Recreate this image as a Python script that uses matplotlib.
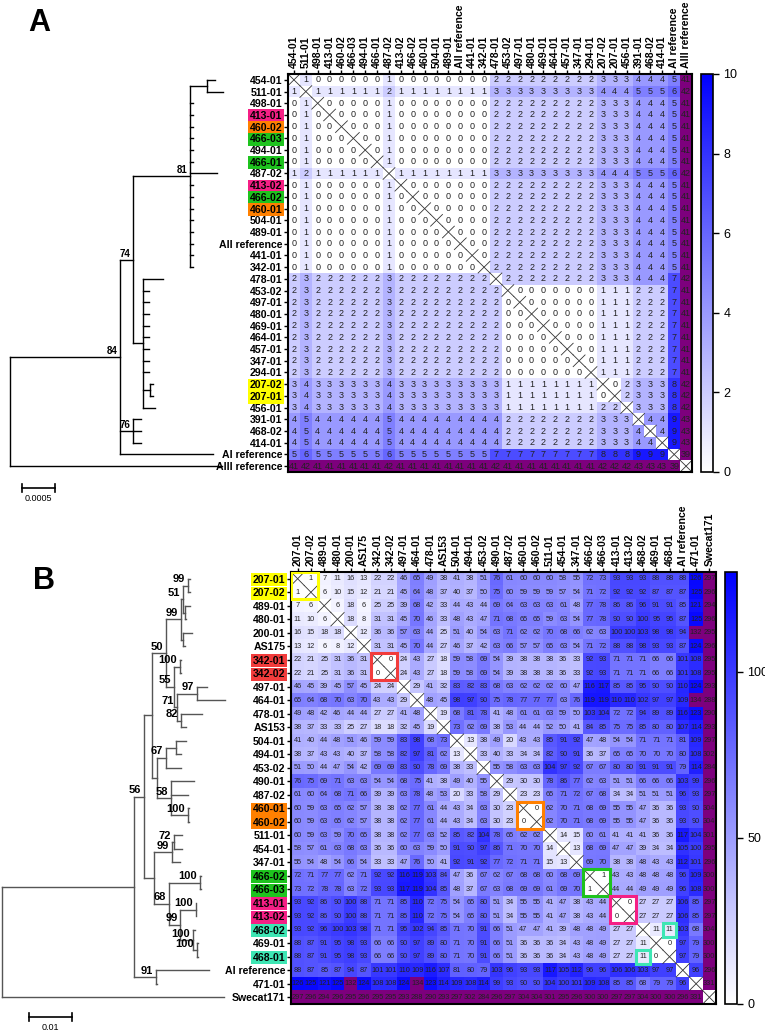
import matplotlib
matplotlib.use('Agg')
import matplotlib.pyplot as plt
import numpy as np
from matplotlib.colors import LinearSegmentedColormap

plt.rcParams['font.family'] = ['Liberation Sans', 'DejaVu Sans']

# ---------------- panel A data ----------------
labels_a = ['454-01', '511-01', '498-01', '413-01', '460-02', '466-03', '494-01', '466-01',
            '487-02', '413-02', '466-02', '460-01', '504-01', '489-01', 'AII reference', '441-01',
            '342-01', '478-01', '453-02', '497-01', '480-01', '469-01', '464-01', '457-01',
            '347-01', '294-01', '207-02', '207-01', '456-01', '391-01', '468-02', '414-01',
            'AI reference', 'AIII reference']

diffs_a = [
    "X 1 0 0 0 0 0 0 1 0 0 0 0 0 0 0 0 2 2 2 2 2 2 2 2 2 3 3 3 4 4 4 5 41",
    "1 X 1 1 1 1 1 1 2 1 1 1 1 1 1 1 1 3 3 3 3 3 3 3 3 3 4 4 4 5 5 5 6 42",
    "0 1 X 0 0 0 0 0 1 0 0 0 0 0 0 0 0 2 2 2 2 2 2 2 2 2 3 3 3 4 4 4 5 41",
    "0 1 0 X 0 0 0 0 1 0 0 0 0 0 0 0 0 2 2 2 2 2 2 2 2 2 3 3 3 4 4 4 5 41",
    "0 1 0 0 X 0 0 0 1 0 0 0 0 0 0 0 0 2 2 2 2 2 2 2 2 2 3 3 3 4 4 4 5 41",
    "0 1 0 0 0 X 0 0 1 0 0 0 0 0 0 0 0 2 2 2 2 2 2 2 2 2 3 3 3 4 4 4 5 41",
    "0 1 0 0 0 0 X 0 1 0 0 0 0 0 0 0 0 2 2 2 2 2 2 2 2 2 3 3 3 4 4 4 5 41",
    "0 1 0 0 0 0 0 X 1 0 0 0 0 0 0 0 0 2 2 2 2 2 2 2 2 2 3 3 3 4 4 4 5 41",
    "1 2 1 1 1 1 1 1 X 1 1 1 1 1 1 1 1 3 3 3 3 3 3 3 3 3 4 4 4 5 5 5 6 42",
    "0 1 0 0 0 0 0 0 1 X 0 0 0 0 0 0 0 2 2 2 2 2 2 2 2 2 3 3 3 4 4 4 5 41",
    "0 1 0 0 0 0 0 0 1 0 X 0 0 0 0 0 0 2 2 2 2 2 2 2 2 2 3 3 3 4 4 4 5 41",
    "0 1 0 0 0 0 0 0 1 0 0 X 0 0 0 0 0 2 2 2 2 2 2 2 2 2 3 3 3 4 4 4 5 41",
    "0 1 0 0 0 0 0 0 1 0 0 0 X 0 0 0 0 2 2 2 2 2 2 2 2 2 3 3 3 4 4 4 5 41",
    "0 1 0 0 0 0 0 0 1 0 0 0 0 X 0 0 0 2 2 2 2 2 2 2 2 2 3 3 3 4 4 4 5 41",
    "0 1 0 0 0 0 0 0 1 0 0 0 0 0 X 0 0 2 2 2 2 2 2 2 2 2 3 3 3 4 4 4 5 41",
    "0 1 0 0 0 0 0 0 1 0 0 0 0 0 0 X 0 2 2 2 2 2 2 2 2 2 3 3 3 4 4 4 5 41",
    "0 1 0 0 0 0 0 0 1 0 0 0 0 0 0 0 X 2 2 2 2 2 2 2 2 2 3 3 3 4 4 4 5 41",
    "2 3 2 2 2 2 2 2 3 2 2 2 2 2 2 2 2 X 2 2 2 2 2 2 2 2 3 3 3 4 4 4 7 42",
    "2 3 2 2 2 2 2 2 3 2 2 2 2 2 2 2 2 2 X 0 0 0 0 0 0 0 1 1 1 2 2 2 7 41",
    "2 3 2 2 2 2 2 2 3 2 2 2 2 2 2 2 2 2 0 X 0 0 0 0 0 0 1 1 1 2 2 2 7 41",
    "2 3 2 2 2 2 2 2 3 2 2 2 2 2 2 2 2 2 0 0 X 0 0 0 0 0 1 1 1 2 2 2 7 41",
    "2 3 2 2 2 2 2 2 3 2 2 2 2 2 2 2 2 2 0 0 0 X 0 0 0 0 1 1 1 2 2 2 7 41",
    "2 3 2 2 2 2 2 2 3 2 2 2 2 2 2 2 2 2 0 0 0 0 X 0 0 0 1 1 1 2 2 2 7 41",
    "2 3 2 2 2 2 2 2 3 2 2 2 2 2 2 2 2 2 0 0 0 0 0 X 0 0 1 1 1 2 2 2 7 41",
    "2 3 2 2 2 2 2 2 3 2 2 2 2 2 2 2 2 2 0 0 0 0 0 0 X 0 1 1 1 2 2 2 7 41",
    "2 3 2 2 2 2 2 2 3 2 2 2 2 2 2 2 2 2 0 0 0 0 0 0 0 X 1 1 1 2 2 2 7 41",
    "3 4 3 3 3 3 3 3 4 3 3 3 3 3 3 3 3 3 1 1 1 1 1 1 1 1 X 0 2 3 3 3 8 42",
    "3 4 3 3 3 3 3 3 4 3 3 3 3 3 3 3 3 3 1 1 1 1 1 1 1 1 0 X 2 3 3 3 8 42",
    "3 4 3 3 3 3 3 3 4 3 3 3 3 3 3 3 3 3 1 1 1 1 1 1 1 1 2 2 X 3 3 3 8 42",
    "4 5 4 4 4 4 4 4 5 4 4 4 4 4 4 4 4 4 2 2 2 2 2 2 2 2 3 3 3 X 4 4 9 43",
    "4 5 4 4 4 4 4 4 5 4 4 4 4 4 4 4 4 4 2 2 2 2 2 2 2 2 3 3 3 4 X 4 9 43",
    "4 5 4 4 4 4 4 4 5 4 4 4 4 4 4 4 4 4 2 2 2 2 2 2 2 2 3 3 3 4 4 X 9 43",
    "5 6 5 5 5 5 5 5 6 5 5 5 5 5 5 5 5 7 7 7 7 7 7 7 7 7 8 8 8 9 9 9 X 39",
    "41 42 41 41 41 41 41 41 42 41 41 41 41 41 41 41 41 42 41 41 41 41 41 41 41 41 42 42 42 43 43 43 39 X",
]

tree_a = ("(AIII reference:0.00321,("
          "(((454-01:0.00012,511-01:0.00023):0.00026,498-01:0.00005,413-01:0.00005,460-02:0.00005,"
          "466-03:0.00005,494-01:0.00005,466-01:0.00005,487-02:0.00041,413-02:0.00005,466-02:0.00005,"
          "460-01:0.00005,504-01:0.00005,489-01:0.00005,AII reference:0.00005,441-01:0.00005,"
          "342-01:0.00005)81:0.00086,"
          "(478-01:0.0003,453-02:0.00008,497-01:0.00008,480-01:0.00008,469-01:0.00008,464-01:0.00008,"
          "457-01:0.00008,347-01:0.00008,294-01:0.00008,(207-02:0.00005,207-01:0.00005):0.0001,"
          "456-01:0.00018):0.00015)74:0.0002,"
          "(391-01:0.00012,468-02:0.00012,414-01:0.00012)76:0.0002,"
          "AI reference:0.00141)84:0.00167);")

# ---------------- panel B data ----------------
labels_b = ['207-01', '207-02', '489-01', '480-01', '200-01', 'AS175', '342-01', '342-02',
            '497-01', '464-01', '478-01', 'AS153', '504-01', '494-01', '453-02', '490-01',
            '487-02', '460-01', '460-02', '511-01', '454-01', '347-01', '466-02', '466-03',
            '413-01', '413-02', '468-02', '469-01', '468-01', 'AI reference', '471-01', 'Swecat171']

diffs_b = [
    "X 1 7 11 16 13 22 22 46 65 49 38 41 38 51 76 61 60 60 60 58 55 72 73 93 93 93 88 88 88 126 297",
    "1 X 6 10 15 12 21 21 45 64 48 37 40 37 50 75 60 59 59 59 57 54 71 72 92 92 92 87 87 87 125 296",
    "7 6 X 6 18 6 25 25 39 68 42 33 44 43 44 69 64 63 63 63 61 48 77 78 86 86 96 91 91 85 121 294",
    "11 10 6 X 18 8 31 31 45 70 46 33 48 43 47 71 68 65 65 59 63 54 77 78 90 90 100 95 95 87 125 296",
    "16 15 18 18 X 12 36 36 57 63 44 25 51 40 54 63 71 62 62 70 68 66 62 63 100 100 103 98 98 94 132 295",
    "13 12 6 8 12 X 31 31 45 70 44 27 46 37 42 63 66 57 57 65 63 54 71 72 88 88 98 93 93 87 124 296",
    "22 21 25 31 36 31 X 0 24 43 27 18 59 58 69 54 39 38 38 38 36 33 92 93 71 71 71 66 66 101 108 295",
    "22 21 25 31 36 31 0 X 24 43 27 18 59 58 69 54 39 38 38 38 36 33 92 93 71 71 71 66 66 101 108 295",
    "46 45 39 45 57 45 24 24 X 29 41 32 83 82 83 68 63 62 62 62 60 47 116 117 85 85 95 90 90 110 124 293",
    "65 64 68 70 63 70 43 43 29 X 48 45 98 97 90 75 78 77 77 77 63 76 119 119 110 110 102 97 97 109 134 288",
    "49 48 42 46 44 44 27 27 41 48 X 19 68 81 78 41 48 61 61 63 59 50 103 104 72 72 94 89 89 116 123 290",
    "38 37 33 33 25 27 18 18 32 45 19 X 73 62 69 38 53 44 44 52 50 41 84 85 75 75 85 80 80 107 114 293",
    "41 40 44 48 51 46 59 59 83 98 68 73 X 13 38 49 20 43 43 85 91 92 47 48 54 54 71 71 71 81 109 297",
    "38 37 43 43 40 37 58 58 82 97 81 62 13 X 33 40 33 34 34 82 90 91 36 37 65 65 70 70 70 80 108 302",
    "51 50 44 47 54 42 69 69 83 90 78 69 38 33 X 55 58 63 63 104 97 92 67 67 80 80 91 91 91 79 114 284",
    "76 75 69 71 63 63 54 54 68 75 41 38 49 40 55 X 29 30 30 78 86 77 62 63 51 51 66 66 66 103 99 296",
    "61 60 64 68 71 66 39 39 63 78 48 53 20 33 58 29 X 23 23 65 71 72 67 68 34 34 51 51 51 96 93 297",
    "60 59 63 65 62 57 38 38 62 77 61 44 43 34 63 30 23 X 0 62 70 71 68 69 55 55 47 36 36 93 90 304",
    "60 59 63 65 62 57 38 38 62 77 61 44 43 34 63 30 23 0 X 62 70 71 68 69 55 55 47 36 36 93 90 304",
    "60 59 63 59 70 65 38 38 62 77 63 52 85 82 104 78 65 62 62 X 14 15 60 61 41 41 41 36 36 117 104 301",
    "58 57 61 63 68 63 36 36 60 63 59 50 91 90 97 86 71 70 70 14 X 13 68 69 47 47 39 34 34 105 100 295",
    "55 54 48 54 66 54 33 33 47 76 50 41 92 91 92 77 72 71 71 15 13 X 69 70 38 38 48 43 43 112 101 296",
    "72 71 77 77 62 71 92 92 116 119 103 84 47 36 67 62 67 68 68 60 68 69 X 1 43 43 48 48 48 96 109 300",
    "73 72 78 78 63 72 93 93 117 119 104 85 48 37 67 63 68 69 69 61 69 70 1 X 44 44 49 49 49 96 108 300",
    "93 92 86 90 100 88 71 71 85 110 72 75 54 65 80 51 34 55 55 41 47 38 43 44 X 0 27 27 27 106 85 297",
    "93 92 86 90 100 88 71 71 85 110 72 75 54 65 80 51 34 55 55 41 47 38 43 44 0 X 27 27 27 106 85 297",
    "93 92 96 100 103 98 71 71 95 102 94 85 71 70 91 66 51 47 47 41 39 48 48 49 27 27 X 11 11 103 68 304",
    "88 87 91 95 98 93 66 66 90 97 89 80 71 70 91 66 51 36 36 36 34 43 48 49 27 27 11 X 0 97 79 300",
    "88 87 91 95 98 93 66 66 90 97 89 80 71 70 91 66 51 36 36 36 34 43 48 49 27 27 11 0 X 97 79 300",
    "88 87 85 87 94 87 101 101 110 109 116 107 81 80 79 103 96 93 93 117 105 112 96 96 106 106 103 97 97 X 96 296",
    "126 125 121 125 132 124 108 108 124 134 123 114 109 108 114 99 93 90 90 104 100 101 109 108 85 85 68 79 79 96 X 331",
    "297 296 294 296 295 296 295 295 293 288 290 293 297 302 284 296 297 304 304 301 295 296 300 300 297 297 304 300 300 296 331 X",
]

tree_b = ("(Swecat171:0.0512,(("
          "(((((207-01:0.0004,207-02:0.0004)99:0.0012,(489-01:0.0013,480-01:0.0002):0.0004)51:0.0004,"
          "(200-01:0.0021,AS175:0.0005):0.0004)99:0.0035,"
          "((342-01:0.0002,342-02:0.0002)100:0.0014,((497-01:0.0023,464-01:0.0065)97:0.0045,"
          "(478-01:0.0048,AS153:0.0013)82:0.0008)71:0.0008)55:0.0018)50:0.0033,"
          "(((504-01:0.0022,494-01:0.0012):0.0023,453-02:0.0035)67:0.0021,"
          "(490-01:0.0052,487-02:0.0038,(460-01:0.0002,460-02:0.0002)100:0.0038)58:0.0033):0.0012):0.0019,"
          "(((511-01:0.0019,454-01:0.0019)72:0.0004,347-01:0.0017)99:0.0041,"
          "((466-02:0.0002,466-03:0.0002)100:0.0072,((413-01:0.0002,413-02:0.0002)100:0.0035,"
          "(468-02:0.0005,(469-01:0.0002,468-01:0.0002)100:0.0009)100:0.0029)99:0.0027)68:0.0033):0.0025"
          ")56:0.0021,(AI reference:0.0123,471-01:0.0002)91:0.005):0.0306);")

YELLOW, RED, ORANGE, GREEN, PINK, TEAL = '#ffff00', '#f23c3c', '#ff8000', '#1ec31e', '#f51f85', '#3ee6b4'
marks_a = {'413-01': PINK, '460-02': ORANGE, '466-03': GREEN, '466-01': GREEN, '413-02': PINK,
           '466-02': GREEN, '460-01': ORANGE, '207-02': YELLOW, '207-01': YELLOW}
marks_b = {'207-01': YELLOW, '207-02': YELLOW, '342-01': RED, '342-02': RED, '460-01': ORANGE,
           '460-02': ORANGE, '466-02': GREEN, '466-03': GREEN, '413-01': PINK, '413-02': PINK,
           '468-02': TEAL, '468-01': TEAL}
# boxed cells in B: (first row, first col, rows, cols, colour)
boxes_b = [(0, 0, 2, 2, YELLOW), (6, 6, 2, 2, RED), (17, 17, 2, 2, ORANGE), (22, 22, 2, 2, GREEN),
           (24, 24, 2, 2, PINK), (26, 28, 1, 1, TEAL), (28, 26, 1, 1, TEAL)]

cmap = LinearSegmentedColormap.from_list('wb', ['#ffffff', '#0000ff'])
cmap.set_over('#7d007d')
cmap.set_bad('#ffffff')

W, H = 765, 1032
fig = plt.figure(figsize=(W / 100, H / 100), dpi=100)


def px_axes(x0, y0, x1, y1):
    return fig.add_axes([x0 / W, 1 - y1 / H, (x1 - x0) / W, (y1 - y0) / H])


def parse_newick(s):
    pos = 0

    def node():
        nonlocal pos
        kids = []
        if s[pos] == '(':
            pos += 1
            while True:
                kids.append(node())
                if s[pos] == ',':
                    pos += 1
                else:
                    break
            pos += 1
        start = pos
        while pos < len(s) and s[pos] not in ',();':
            pos += 1
        name, _, length = s[start:pos].partition(':')
        return {'name': name.strip(), 'len': float(length) if length else 0.0, 'kids': kids}

    return node()


def draw_tree(ax, tree, order, color, fs):
    ypos = {name: i for i, name in enumerate(order)}
    span = ax.get_xlim()[1] - ax.get_xlim()[0]

    def walk(nd, x):
        xe = x + nd['len']
        if not nd['kids']:
            y = ypos[nd['name']]
        else:
            ys = [walk(k, xe) for k in nd['kids']]
            ax.plot([xe, xe], [min(ys), max(ys)], color=color, lw=1)
            y = (min(ys) + max(ys)) / 2
            if nd['name']:
                ax.text(xe - span * 0.012, y - 0.1, nd['name'], ha='right', va='bottom',
                        fontsize=fs, fontweight='bold')
        ax.plot([x, xe], [y, y], color=color, lw=1)
        return y

    walk(tree, 0.0)


def heat(ax, cax, labels, rows, vmax, fs_num, fs_lab, marks, boxes, cticks):
    m = np.array([[np.nan if v == 'X' else float(v) for v in r.split()] for r in rows])
    n = len(labels)
    im = ax.imshow(np.ma.masked_invalid(m), cmap=cmap, vmin=0, vmax=vmax,
                   aspect='auto', interpolation='nearest')
    for i in range(n):
        for j in range(n):
            if np.isnan(m[i, j]):
                ax.plot([j - 0.5, j + 0.5], [i - 0.5, i + 0.5], color='#333333', lw=0.6)
                ax.plot([j - 0.5, j + 0.5], [i + 0.5, i - 0.5], color='#333333', lw=0.6)
            else:
                ax.text(j, i, '%d' % m[i, j], ha='center', va='center',
                        fontsize=fs_num, color='#222222')
    for r, c, nr, nc, col in boxes:
        ax.add_patch(plt.Rectangle((c - 0.5, r - 0.5), nc, nr, fill=False, ec=col, lw=2.2, zorder=5))
    ax.set_xlim(-0.5, n - 0.5)
    ax.set_ylim(n - 0.5, -0.5)
    ax.set_xticks(range(n))
    ax.set_yticks(range(n))
    ax.set_xticklabels(labels, rotation=90, fontsize=fs_lab, fontweight='bold')
    ax.set_yticklabels(labels, fontsize=fs_lab, fontweight='bold')
    ax.xaxis.tick_top()
    ax.tick_params(length=3, width=1, pad=1)
    for lab in ax.get_yticklabels():
        if lab.get_text() in marks:
            lab.set_bbox(dict(facecolor=marks[lab.get_text()], edgecolor='none', pad=1.2))
    for sp in ax.spines.values():
        sp.set_linewidth(1.5)
    cb = fig.colorbar(im, cax=cax)
    cb.set_ticks(cticks)
    cb.outline.set_linewidth(1.2)
    cax.tick_params(labelsize=9, length=4, width=1)
    return m


# ---------------- panel A ----------------
ax_a = px_axes(288, 74, 692, 472)
cax_a = px_axes(701, 74, 713, 472)
heat(ax_a, cax_a, labels_a, diffs_a, 10, 6.5, 7.6, marks_a, [], [0, 2, 4, 6, 8, 10])

ka = 0.0005 / 33.0
tr_a = px_axes(0, 74, 250, 472)
tr_a.set_xlim(-10 * ka, 240 * ka)
tr_a.set_ylim(len(labels_a) - 0.5, -0.5)
tr_a.axis('off')
draw_tree(tr_a, parse_newick(tree_a), labels_a, 'black', 7)
sb = tr_a.get_xaxis_transform()
tr_a.plot([12 * ka, 12 * ka + 0.0005], [-0.04, -0.04], color='black', lw=1.2, transform=sb, clip_on=False)
for xe in (12 * ka, 12 * ka + 0.0005):
    tr_a.plot([xe, xe], [-0.05, -0.03], color='black', lw=1.2, transform=sb, clip_on=False)
tr_a.text(12 * ka + 0.00025, -0.055, '0.0005', ha='center', va='top', fontsize=6.5,
          transform=sb, clip_on=False)

# ---------------- panel B ----------------
ax_b = px_axes(291, 572, 716, 1004)
cax_b = px_axes(725, 572, 737, 1004)
heat(ax_b, cax_b, labels_b, diffs_b, 130, 5.3, 7.6, marks_b, boxes_b, [0, 50, 100])

kb = 0.01 / 43.3
tr_b = px_axes(0, 572, 250, 1004)
tr_b.set_xlim(-2 * kb, 248 * kb)
tr_b.set_ylim(len(labels_b) - 0.5, -0.5)
tr_b.axis('off')
draw_tree(tr_b, parse_newick(tree_b), labels_b, '#555555', 8)
sb = tr_b.get_xaxis_transform()
tr_b.plot([27 * kb, 27 * kb + 0.01], [-0.03, -0.03], color='black', lw=1.2, transform=sb, clip_on=False)
for xe in (27 * kb, 27 * kb + 0.01):
    tr_b.plot([xe, xe], [-0.04, -0.02], color='black', lw=1.2, transform=sb, clip_on=False)
tr_b.text(27 * kb + 0.005, -0.045, '0.01', ha='center', va='top', fontsize=6.5,
          transform=sb, clip_on=False)

fig.text(28 / W, 1 - 8 / H, 'A', fontsize=22, fontweight='bold', va='top')
fig.text(33 / W, 1 - 566 / H, 'B', fontsize=22, fontweight='bold', va='top')

fig.savefig('out.png', dpi=100)
